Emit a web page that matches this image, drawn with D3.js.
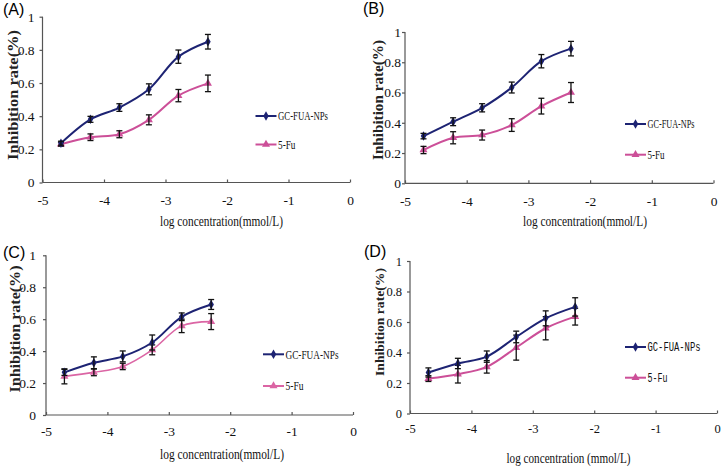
<!DOCTYPE html>
<html>
<head>
<meta charset="utf-8">
<script src="https://cdn.jsdelivr.net/npm/d3@7"></script>
<style>
  body { margin: 0; background: #fff; }
  svg { display: block; }
</style>
</head>
<body>
<div id="chart"></div>
<script>
// log concentration (mmol/L) of the six doses
const logConc = [-4.70, -4.22, -3.75, -3.27, -2.79, -2.31];

const xTicks = [-5, -4, -3, -2, -1, 0];
const yTicks = [0, 0.2, 0.4, 0.6, 0.8, 1];
const seriesNames = ["GC-FUA-NPs", "5-Fu"];

// panel A
const gcA = [0.237, 0.381, 0.452, 0.562, 0.759, 0.849];
const gcErrA = [0.012, 0.018, 0.023, 0.033, 0.040, 0.044];
const fuA = [0.231, 0.273, 0.291, 0.378, 0.524, 0.598];
const fuErrA = [0.012, 0.020, 0.021, 0.030, 0.037, 0.050];
// panel B
const gcB = [0.312, 0.407, 0.499, 0.633, 0.807, 0.890];
const gcErrB = [0.018, 0.026, 0.027, 0.036, 0.044, 0.048];
const fuB = [0.220, 0.301, 0.319, 0.385, 0.510, 0.600];
const fuErrB = [0.024, 0.040, 0.033, 0.042, 0.052, 0.066];
// panel C
const gcC = [0.267, 0.327, 0.367, 0.454, 0.615, 0.692];
const gcErrC = [0.019, 0.037, 0.034, 0.047, 0.024, 0.031];
const fuC = [0.242, 0.267, 0.304, 0.408, 0.558, 0.585];
const fuErrC = [0.047, 0.021, 0.020, 0.031, 0.042, 0.050];
// panel D
const gcD = [0.269, 0.328, 0.373, 0.502, 0.624, 0.699];
const gcErrD = [0.030, 0.034, 0.037, 0.038, 0.049, 0.060];
const fuD = [0.229, 0.258, 0.306, 0.432, 0.559, 0.635];
const fuErrD = [0.019, 0.058, 0.041, 0.082, 0.076, 0.055];

const navy = "#1d2373";
const serif = "'Liberation Serif', 'Times New Roman', serif";

// layout of each panel (pixel boxes)
const panels = [
  { label: "(A)", gc: gcA, gcErr: gcErrA, fu: fuA, fuErr: fuErrA, pink: "#cc4f98",
    x0: 42.5, x1: 350, yTop: 16.7, yBot: 182.5, lab: [3, 15],
    legX: 255.5, legY: [116, 144.5], legLen: [50, 17.5], legFont: serif,
    xTitle: "log concentration(mmol/L)", xt: [221.5, 225.5, 123], yt: [13, 95, 130, 15],
    yGap: 8, xLabY: 205 },
  { label: "(B)", gc: gcB, gcErr: gcErrB, fu: fuB, fuErr: fuErrB, pink: "#cc4f98",
    x0: 405, x1: 713.5, yTop: 32, yBot: 183.3, lab: [363, 14],
    legX: 625, legY: [124, 154.7], legLen: [47, 17], legFont: serif,
    xTitle: "log concentration(mmol/L)", xt: [585, 226, 124], yt: [378, 100, 120, 15],
    yGap: 4, xLabY: 206 },
  { label: "(C)", gc: gcC, gcErr: gcErrC, fu: fuC, fuErr: fuErrC, pink: "#db65a4",
    x0: 46, x1: 353, yTop: 255.3, yBot: 415, lab: [3, 258],
    legX: 263, legY: [354.3, 386], legLen: [53, 18], legFont: serif,
    xTitle: "log concentration(mmol/L)", xt: [222, 459, 124], yt: [15, 329, 127, 15],
    yGap: 10, xLabY: 436 },
  { label: "(D)", gc: gcD, gcErr: gcErrD, fu: fuD, fuErr: fuErrD, pink: "#cc4f98",
    x0: 410, x1: 717, yTop: 261, yBot: 413.5, lab: [364, 257],
    legX: 625, legY: [347, 377.7], legLen: [53, 20], legFont: "'Liberation Mono', monospace",
    xTitle: "log concentration (mmol/L)", xt: [568.5, 463, 124], yt: [379, 322, 108, 13],
    yGap: 8, xLabY: 433 }
];

const svg = d3.select("#chart").append("svg")
  .attr("width", 724)
  .attr("height", 472);

const diamond = d3.symbol().type(d3.symbolDiamond).size(26);
const triangle = d3.symbol().type(d3.symbolTriangle).size(28);

panels.forEach(p => {
  const g = svg.append("g");
  const x = d3.scaleLinear().domain([-5, 0]).range([p.x0, p.x1]);
  const y = d3.scaleLinear().domain([0, 1]).range([p.yBot, p.yTop]);

  // panel letter
  g.append("text")
    .attr("x", p.lab[0]).attr("y", p.lab[1])
    .style("font-family", "'Liberation Sans', Arial, sans-serif")
    .style("font-size", "16px")
    .text(p.label);

  // y axis
  const yAxis = g.append("g")
    .attr("transform", `translate(${p.x0},0)`)
    .call(d3.axisLeft(y).tickValues(yTicks).tickSize(3).tickPadding(p.yGap - 3)
      .tickFormat(d => d3.format("~g")(d)));
  // x axis, ticks pointing up into the plot
  const xAxis = g.append("g")
    .attr("transform", `translate(0,${p.yBot})`)
    .call(d3.axisBottom(x).tickValues(xTicks).tickSize(-3).tickPadding(0)
      .tickFormat(d => d === 0 ? "0" : "-" + Math.abs(d)));

  [yAxis, xAxis].forEach(ax => {
    ax.attr("font-family", null).attr("font-size", null);
    ax.select(".domain").attr("stroke", "#555").attr("stroke-width", 1.2);
    ax.selectAll(".tick line").attr("stroke", "#555").attr("stroke-width", 1.2);
    ax.selectAll(".tick text")
      .style("font-family", serif)
      .style("font-size", p.label === "(D)" ? "12.5px" : "13.5px")
      .attr("fill", "#111");
  });
  xAxis.select(".domain").attr("d", `M${p.x0},0H${p.x1}`);
  yAxis.select(".domain").attr("d", `M0,${p.yBot}V${p.yTop}`);
  xAxis.selectAll(".tick text").attr("dy", null).attr("y", p.xLabY - p.yBot);

  // axis titles
  g.append("text")
    .attr("x", p.xt[0]).attr("y", p.xt[1])
    .attr("text-anchor", "middle")
    .style("font-family", serif)
    .style("font-size", "14px")
    .attr("textLength", p.xt[2])
    .attr("lengthAdjust", "spacingAndGlyphs")
    .attr("fill", "#111")
    .text(p.xTitle);

  g.append("text")
    .attr("transform", `translate(${p.yt[0]},${p.yt[1]}) rotate(-90)`)
    .attr("text-anchor", "middle")
    .attr("dy", "0.35em")
    .style("font-family", serif)
    .style("font-weight", "bold")
    .style("font-size", p.yt[3] + "px")
    .attr("textLength", p.yt[2])
    .attr("lengthAdjust", "spacingAndGlyphs")
    .attr("fill", "#222")
    .text(p.label === "(D)" ? "Inhibition  rate(%)" : "Inhibition rate(%)");

  const series = [
    { vals: p.gc, err: p.gcErr, color: navy, sym: diamond, width: 2 },
    { vals: p.fu, err: p.fuErr, color: p.pink, sym: triangle, width: p.label === "(C)" ? 1.6 : 2 }
  ];

  const line = d3.line()
    .x((d, i) => x(logConc[i]))
    .y(d => y(d))
    .curve(d3.curveCatmullRom.alpha(0.5));

  // draw 5-Fu first so the navy curve sits on top
  series.slice().reverse().forEach(s => {
    g.append("path")
      .datum(s.vals)
      .attr("d", line)
      .attr("fill", "none")
      .attr("stroke", s.color)
      .attr("stroke-width", s.width);

    g.append("g").selectAll("path")
      .data(s.vals)
      .join("path")
      .attr("transform", (d, i) => `translate(${x(logConc[i])},${y(d)})`)
      .attr("d", s.sym)
      .attr("fill", s.color);

    // error bars
    const eb = g.append("g").attr("stroke", "#111").attr("stroke-width", 1.3);
    s.vals.forEach((v, i) => {
      const cx = x(logConc[i]);
      const lo = y(v - s.err[i]);
      const hi = y(v + s.err[i]);
      eb.append("line").attr("x1", cx).attr("x2", cx).attr("y1", lo).attr("y2", hi);
      eb.append("line").attr("x1", cx - 3).attr("x2", cx + 3).attr("y1", lo).attr("y2", lo);
      eb.append("line").attr("x1", cx - 3).attr("x2", cx + 3).attr("y1", hi).attr("y2", hi);
    });
  });

  // legend
  series.forEach((s, k) => {
    const ly = p.legY[k];
    g.append("line")
      .attr("x1", p.legX).attr("x2", p.legX + 21)
      .attr("y1", ly).attr("y2", ly)
      .attr("stroke", s.color).attr("stroke-width", 2);
    g.append("path")
      .attr("transform", `translate(${p.legX + 10.5},${ly})`)
      .attr("d", s.sym)
      .attr("fill", s.color);
    g.append("text")
      .attr("x", p.legX + 22.5).attr("y", ly)
      .attr("dy", "0.35em")
      .style("font-family", p.legFont)
      .style("font-size", "12px")
      .attr("textLength", p.legLen[k])
      .attr("lengthAdjust", "spacingAndGlyphs")
      .attr("fill", "#111")
      .text(seriesNames[k]);
  });
});
</script>
</body>
</html>
